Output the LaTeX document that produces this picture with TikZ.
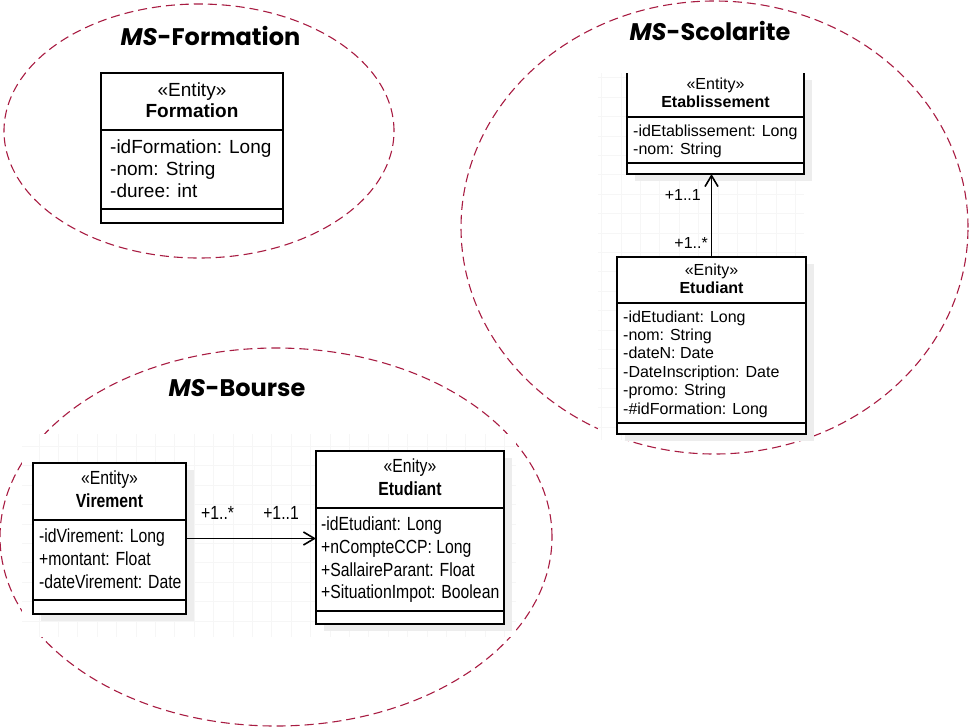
\documentclass[tikz,border=0pt]{standalone}
\usepackage{fontspec}
\setmainfont{Liberation Sans}
\newfontfamily\titlefont{Poppins}
\newfontfamily\narrowsans[FakeStretch=0.83]{Liberation Sans}
\usetikzlibrary{shapes,backgrounds,positioning,arrows.meta,shadows}
\definecolor{msred}{RGB}{168,28,66}
\definecolor{gridgray}{RGB}{246,246,246}
\definecolor{shadowgray}{RGB}{237,237,237}

\begin{document}
\begin{tikzpicture}[x=1pt, y=1pt]
            \tikzstyle{service} = [draw=msred, line width=1.1pt, dash pattern=on 9pt off 5pt]
            \tikzstyle{mstitle} = [font=\titlefont\fontsize{24}{29}\selectfont\bfseries, inner sep=0pt, anchor=base]
            \tikzstyle{entity} = [rectangle, draw=black, line width=1.6pt, fill=white, inner sep=0pt, outer sep=0pt, anchor=north west]
            \tikzstyle{boxshadow} = [general shadow={shadow xshift=8pt, shadow yshift=-7pt, fill=shadowgray}]
            \tikzstyle{divider} = [line width=1.6pt]
            \tikzstyle{assoc} = [-{Straight Barb[length=11pt, width=13pt]}, line width=1.6pt]
            \tikzstyle{bigtxt} = [inner sep=0pt, font=\fontsize{19}{22}\selectfont]
            \tikzstyle{smalltxt} = [inner sep=0pt, font=\fontsize{16}{18.4}\selectfont]
            \tikzstyle{narrowtxt} = [inner sep=0pt, font=\narrowsans\fontsize{19}{22.7}\selectfont]
            \useasboundingbox (0,0) rectangle (969,-726);
            % service boundaries
            \draw[service] (199,-131) ellipse [x radius=195pt, y radius=127pt];
            \draw[service] (714.5,-227.5) ellipse [x radius=253.5pt, y radius=226.5pt];
            \draw[service] (276,-537) ellipse [x radius=276pt, y radius=189pt];
            % canvas panels
            \fill[white] (598,-73) rectangle (804,-440);
            \draw[gridgray, step=19.4] (598,-73) grid (804,-440);
            \fill[white] (22,-434) rectangle (516,-637);
            \draw[gridgray, step=19.4] (22,-434) grid (516,-637);
            % titles
            \node[mstitle] (t-formation) at (210.5,-45) {\textit{MS}-Formation};
            \node[mstitle] (t-scolarite) at (710,-40) {\textit{MS}-Scolarite};
            \node[mstitle] (t-bourse) at (237,-396.7) {\textit{MS}-Bourse};
            % MS-Formation
            \node[entity, minimum width=182pt, minimum height=150pt] (formation) at (101,-73) {};
            \draw[divider] ([yshift=-57pt]formation.north west) -- ([yshift=-57pt]formation.north east);
            \draw[divider] ([yshift=-136pt]formation.north west) -- ([yshift=-136pt]formation.north east);
            \node[bigtxt, anchor=base] (formation-st) at ([yshift=-23pt]formation.north) {«Entity»};
            \node[bigtxt, anchor=base] (formation-nm) at ([yshift=-44.5pt]formation.north) {\bfseries Formation};
            \foreach \t [count=\i] in {-idFormation: Long, -nom: String, -duree: int}
                \node[bigtxt, anchor=base west] (formation-a\i) at ([xshift=9pt, yshift={-58pt-22pt*\i}]formation.north west) {\t};
            % MS-Scolarite
            \node[entity, draw=none, boxshadow, minimum width=177pt, minimum height=101pt] (etab) at (627,-73) {};
            \draw[divider] (etab.north west) -- (etab.south west) -- (etab.south east) -- (etab.north east);
            \draw[divider] ([yshift=-44pt]etab.north west) -- ([yshift=-44pt]etab.north east);
            \draw[divider] ([yshift=-90pt]etab.north west) -- ([yshift=-90pt]etab.north east);
            \node[smalltxt, anchor=base] (etab-st) at ([yshift=-16pt]etab.north) {«Entity»};
            \node[smalltxt, anchor=base] (etab-nm) at ([yshift=-34pt]etab.north) {\bfseries Etablissement};
            \foreach \t [count=\i] in {-idEtablissement: Long, -nom: String}
                \node[smalltxt, anchor=base west] (etab-a\i) at ([xshift=6pt, yshift={-44.6pt-18.4pt*\i}]etab.north west) {\t};
            \node[entity, boxshadow, minimum width=189pt, minimum height=177pt] (etudS) at (617,-257) {};
            \draw[divider] ([yshift=-46pt]etudS.north west) -- ([yshift=-46pt]etudS.north east);
            \draw[divider] ([yshift=-166pt]etudS.north west) -- ([yshift=-166pt]etudS.north east);
            \node[smalltxt, anchor=base] (etudS-st) at ([yshift=-18pt]etudS.north) {«Enity»};
            \node[smalltxt, anchor=base] (etudS-nm) at ([yshift=-36.5pt]etudS.north) {\bfseries Etudiant};
            \foreach \t [count=\i] in {-idEtudiant: Long, -nom: String, -dateN: Date, -DateInscription: Date, -promo: String, -\#idFormation: Long}
                \node[smalltxt, anchor=base west] (etudS-a\i) at ([xshift=6pt, yshift={-46.6pt-18.4pt*\i}]etudS.north west) {\t};
            \draw[assoc] (etudS.north) -- (etudS.north |- etab.south);
            \node[smalltxt, anchor=base east] (etab-m) at ([shift={(-10.5,57)}]etudS.north) {+1..1};
            \node[smalltxt, anchor=base east] (etudS-m) at ([shift={(-3.5,9)}]etudS.north) {+1..*};
            % MS-Bourse
            \node[entity, boxshadow, minimum width=153pt, minimum height=151pt] (virement) at (33,-463) {};
            \draw[divider] ([yshift=-57pt]virement.north west) -- ([yshift=-57pt]virement.north east);
            \draw[divider] ([yshift=-137pt]virement.north west) -- ([yshift=-137pt]virement.north east);
            \node[narrowtxt, anchor=base] (virement-st) at ([yshift=-21.5pt]virement.north) {«Entity»};
            \node[narrowtxt, anchor=base] (virement-nm) at ([yshift=-44.7pt]virement.north) {\bfseries Virement};
            \foreach \t [count=\i] in {-idVirement: Long, +montant: Float, -dateVirement: Date}
                \node[narrowtxt, anchor=base west] (virement-a\i) at ([xshift=6pt, yshift={-57pt-22.7pt*\i}]virement.north west) {\t};
            \node[entity, boxshadow, minimum width=188pt, minimum height=173pt] (etudB) at (316,-451) {};
            \draw[divider] ([yshift=-57pt]etudB.north west) -- ([yshift=-57pt]etudB.north east);
            \draw[divider] ([yshift=-160pt]etudB.north west) -- ([yshift=-160pt]etudB.north east);
            \node[narrowtxt, anchor=base] (etudB-st) at ([yshift=-21.3pt]etudB.north) {«Enity»};
            \node[narrowtxt, anchor=base] (etudB-nm) at ([yshift=-44pt]etudB.north) {\bfseries Etudiant};
            \foreach \t [count=\i] in {-idEtudiant: Long, +nCompteCCP: Long, +SallaireParant: Float, +SituationImpot: Boolean}
                \node[narrowtxt, anchor=base west] (etudB-a\i) at ([xshift=5pt, yshift={-57pt-22.7pt*\i}]etudB.north west) {\t};
            \draw[assoc] (virement.east) -- (virement.east -| etudB.west);
            \node[narrowtxt, anchor=base west] (virement-m) at ([shift={(15,19.2)}]virement.east) {+1..*};
            \node[narrowtxt, anchor=base east] (etudB-m) at ([shift={(-17,18.2)}]etudB.west) {+1..1};
        \end{tikzpicture}
\end{document}
